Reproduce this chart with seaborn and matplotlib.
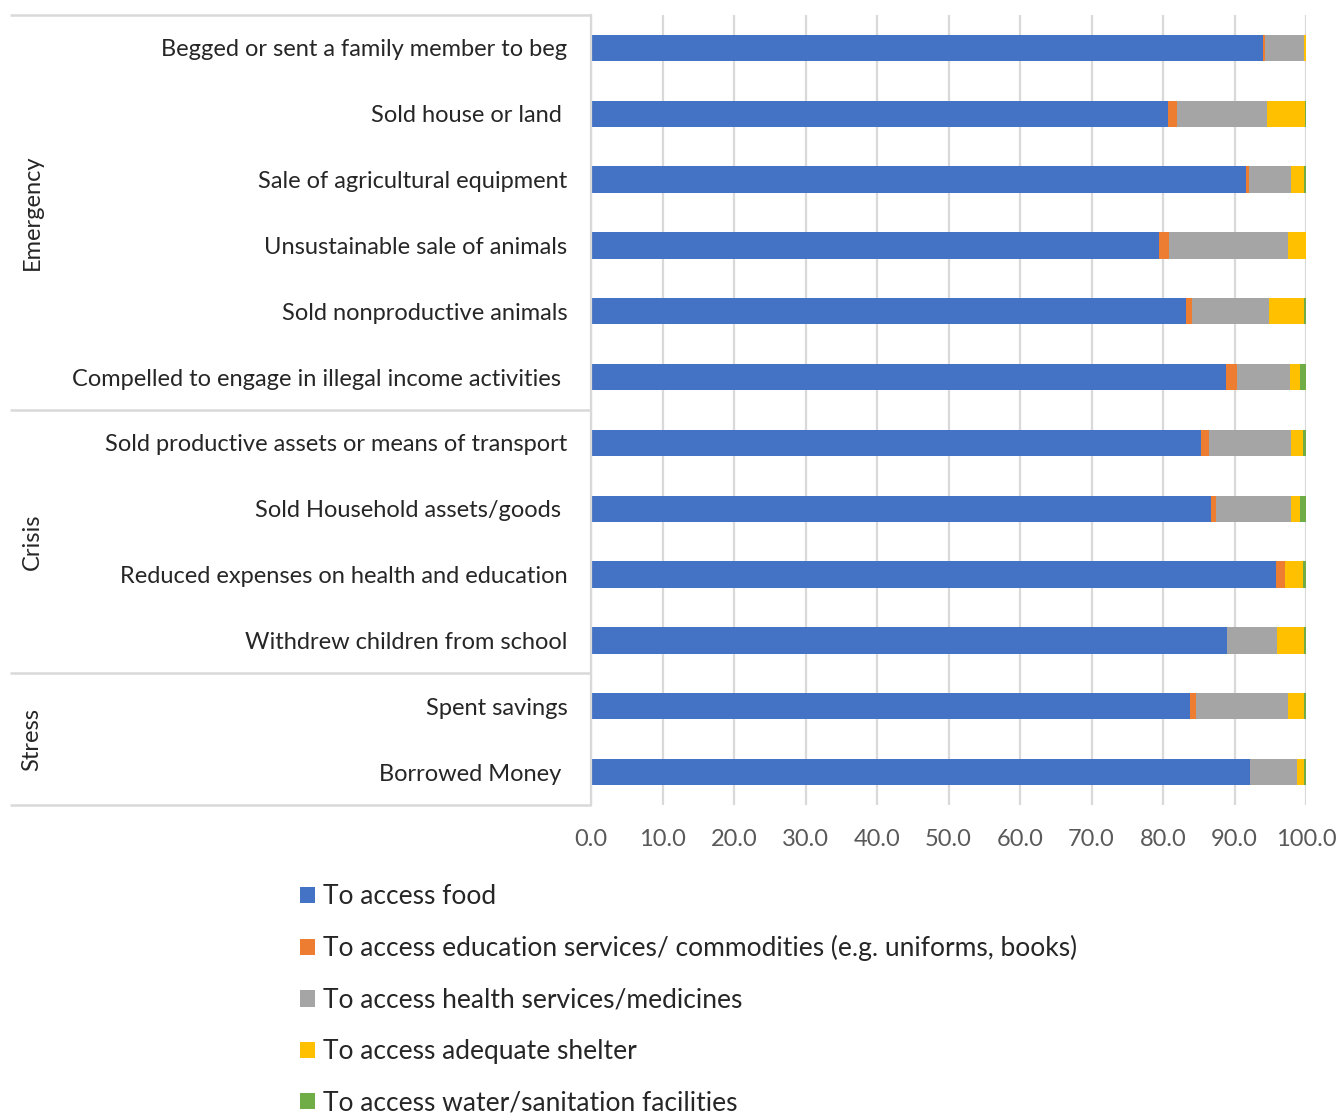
import matplotlib
matplotlib.use("Agg")
import matplotlib.pyplot as plt
from matplotlib.patches import Patch
import numpy as np
import pandas as pd
import seaborn as sns

# Coping strategies, top to bottom
strategies = [
    "Begged or sent a family member to beg",
    "Sold house or land ",
    "Sale of agricultural equipment",
    "Unsustainable sale of animals",
    "Sold nonproductive animals",
    "Compelled to engage in illegal income activities ",
    "Sold productive assets or means of transport",
    "Sold Household assets/goods ",
    "Reduced expenses on health and education",
    "Withdrew children from school",
    "Spent savings",
    "Borrowed Money ",
]

# Share of households (%) by main reason for the strategy
food      = [94.0, 80.7, 91.6, 79.4, 83.2, 88.8, 85.3, 86.7, 95.8, 88.9, 83.8, 92.2]
education = [0.3, 1.3, 0.4, 1.4, 0.8, 1.6, 1.2, 0.7, 1.3, 0.0, 0.8, 0.0]
health    = [5.4, 12.6, 5.9, 16.7, 10.8, 7.3, 11.4, 10.5, 0.0, 7.0, 12.9, 6.6]
shelter   = [0.3, 5.2, 1.8, 2.5, 4.9, 1.5, 1.7, 1.3, 2.5, 3.8, 2.2, 0.9]
water     = [0.0, 0.2, 0.3, 0.0, 0.3, 0.8, 0.4, 0.8, 0.4, 0.3, 0.3, 0.3]

series_names = [
    "To access food",
    "To access education services/ commodities (e.g. uniforms, books)",
    "To access health services/medicines",
    "To access adequate shelter",
    "To access water/sanitation facilities",
]
series_colors = ["#4472C4", "#ED7D31", "#A5A5A5", "#FFC000", "#70AD47"]

# Severity groups: (name, first row, last row)
groups = [("Emergency", 0, 5), ("Crisis", 6, 9), ("Stress", 10, 11)]
x_ticks = [0, 10, 20, 30, 40, 50, 60, 70, 80, 90, 100]

sns.set_theme(style="white")
plt.rcParams["font.family"] = ["Lato", "DejaVu Sans"]
FS = 17
FS_LEG = 19

df = pd.DataFrame({"strategy": strategies, "food": food, "education": education,
                   "health": health, "shelter": shelter, "water": water})
cols = ["food", "education", "health", "shelter", "water"]
cum = df[cols].cumsum(axis=1)

fig = plt.figure(figsize=(13.4, 11.2), dpi=100)
ax = fig.add_axes([591 / 1340, 1 - 805 / 1120, 715 / 1340, 790 / 1120])

# Stacked bars: draw cumulative totals from the outermost layer inward
for col, color in reversed(list(zip(cols, series_colors))):
    sns.barplot(x=cum[col], y=df["strategy"], orient="h", color=color,
                width=0.4, linewidth=0, saturation=1, ax=ax)

ax.set_xlim(0, 100)
ax.set_ylim(11.5, -0.5)
ax.set_xticks(x_ticks)
ax.set_xticklabels([f"{v:.1f}" for v in x_ticks], fontsize=FS, color="#595959")
ax.tick_params(axis="x", length=0, pad=17)
ax.tick_params(axis="y", length=0, pad=17, labelsize=FS, labelcolor="#262626")
ax.set_xlabel("")
ax.set_ylabel("")
ax.grid(axis="x", color="#D9D9D9", linewidth=1.6)
ax.set_axisbelow(True)
for side in ["top", "right", "bottom"]:
    ax.spines[side].set_visible(False)
ax.spines["left"].set_color("#D9D9D9")
ax.spines["left"].set_linewidth(1.6)

# Group separators and group names in the label area
x_left = (10 - 591) / 715
ytrans = ax.get_yaxis_transform()
for yb in [-0.5, 5.5, 9.5, 11.5]:
    ax.plot([x_left, 0], [yb, yb], transform=ytrans, color="#D9D9D9",
            linewidth=1.8, clip_on=False, solid_capstyle="butt")
x_grp = (32 - 591) / 715
for name, a, b in groups:
    ax.text(x_grp, (a + b) / 2, name, transform=ytrans, rotation=90,
            ha="center", va="center", fontsize=FS, color="#262626")

handles = [Patch(facecolor=c, edgecolor="none") for c in series_colors]
fig.legend(handles, series_names, loc="upper left",
           bbox_to_anchor=(300 / 1340, 1 - 884 / 1120), frameon=False,
           fontsize=FS_LEG, labelcolor="#262626", handlelength=0.57,
           handleheight=0.57, handletextpad=0.3, labelspacing=1.0,
           borderaxespad=0, borderpad=0)

fig.savefig("out.png", dpi=100, facecolor="white")
